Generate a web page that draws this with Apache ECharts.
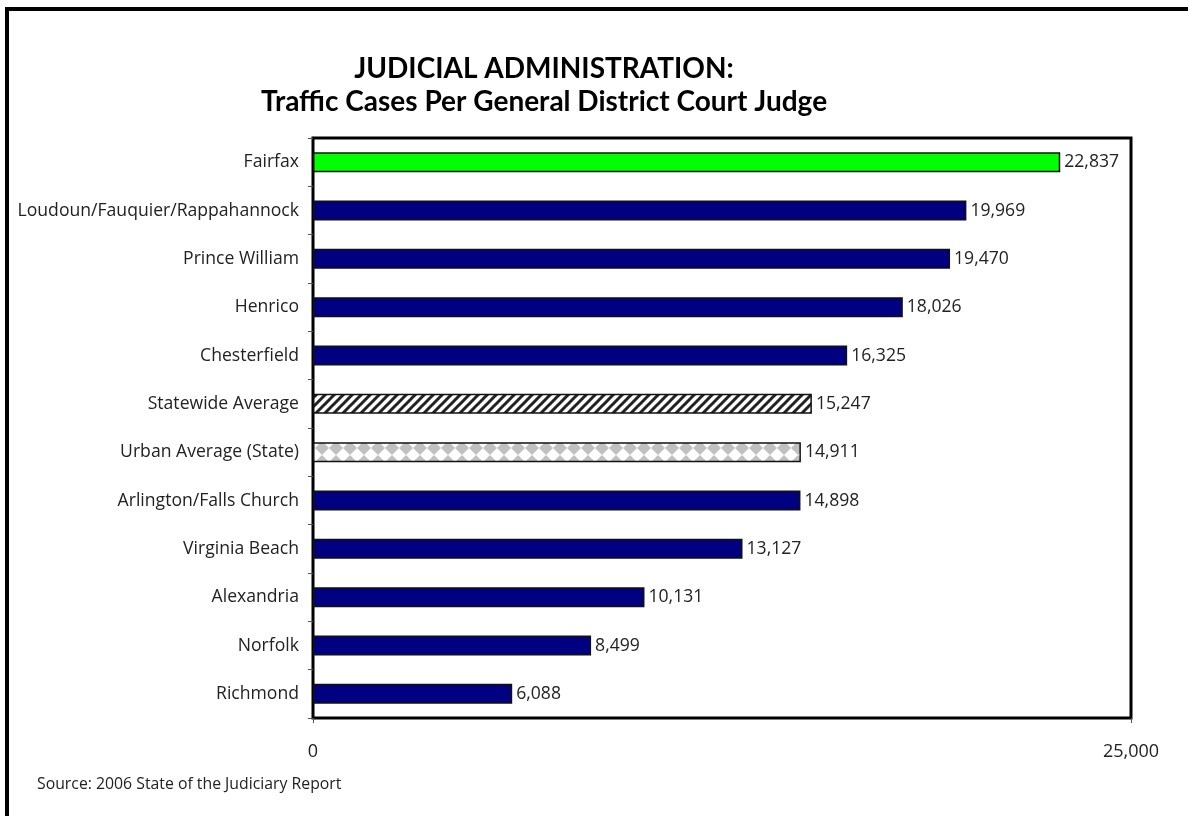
<!DOCTYPE html>
<html>
<head>
<meta charset="utf-8">
<script src="https://cdn.jsdelivr.net/npm/echarts@6/dist/echarts.min.js"></script>
<style>
  html, body { margin: 0; padding: 0; background: #fff; }
  #main { width: 1188px; height: 816px; }
</style>
</head>
<body>
<div id="main"></div>
<script>
// 数据
var categories = ['Fairfax', 'Loudoun/Fauquier/Rappahannock', 'Prince William', 'Henrico',
	'Chesterfield', 'Statewide Average', 'Urban Average (State)', 'Arlington/Falls Church',
	'Virginia Beach', 'Alexandria', 'Norfolk', 'Richmond'];
var caseValues = [22837, 19969, 19470, 18026, 16325, 15247, 14911, 14898, 13127, 10131, 8499, 6088];
var xTicks = [0, 25000];

// 斜线填充
function hatchPattern() {
	var c = document.createElement('canvas');
	c.width = 9; c.height = 9;
	var ctx = c.getContext('2d');
	ctx.fillStyle = '#fff';
	ctx.fillRect(0, 0, 9, 9);
	ctx.strokeStyle = '#222';
	ctx.lineWidth = 3;
	ctx.beginPath();
	ctx.moveTo(-2, 11); ctx.lineTo(11, -2);
	ctx.moveTo(-11, 11); ctx.lineTo(2, -2);
	ctx.moveTo(7, 11); ctx.lineTo(20, -2);
	ctx.stroke();
	return c;
}

// 菱形填充
function diamondPattern() {
	var c = document.createElement('canvas');
	var s = 14;
	c.width = s; c.height = s;
	var ctx = c.getContext('2d');
	ctx.fillStyle = '#c0c0c0';
	ctx.fillRect(0, 0, s, s);
	ctx.fillStyle = '#fff';
	ctx.beginPath();
	ctx.moveTo(s / 2, 0); ctx.lineTo(s, s / 2); ctx.lineTo(s / 2, s); ctx.lineTo(0, s / 2);
	ctx.closePath();
	ctx.fill();
	return c;
}

function barColor(name) {
	if (name === 'Fairfax') return '#00ff00';
	if (name === 'Statewide Average') return { image: hatchPattern(), repeat: 'repeat' };
	if (name === 'Urban Average (State)') return { image: diamondPattern(), repeat: 'repeat' };
	return '#000080';
}

var chart = echarts.init(document.getElementById('main'));
var barData = categories.map(function (name, i) {
	return { value: caseValues[i], itemStyle: { color: barColor(name) } };
});

var option = {
	backgroundColor: '#fff',
	animation: false,
	title: {
		text: 'JUDICIAL ADMINISTRATION:\nTraffic Cases Per General District Court Judge',
		left: 539,
		top: 47,
		textAlign: 'center',
		textStyle: {
			color: '#000',
			fontWeight: 'bold',
			fontFamily: 'Lato',
			fontSize: 28,
			lineHeight: 33
		}
	},
	graphic: [{
		type: 'rect',
		shape: { x: 7, y: 9, width: 1300, height: 900 },
		style: { fill: 'none', stroke: '#000', lineWidth: 4 },
		silent: true
	}, {
		type: 'text',
		left: 37,
		top: 776,
		style: {
			text: 'Source: 2006 State of the Judiciary Report',
			fill: '#222',
			font: '15.8px "Open Sans"'
		}
	}],
	grid: {
		left: 313,
		right: 57,
		top: 138,
		bottom: 98,
		show: true,
		borderColor: '#000',
		borderWidth: 3,
		containLabel: false
	},
	xAxis: {
		type: 'value',
		min: 0,
		max: 25000,
		interval: 25000,
		splitLine: { show: false },
		axisLine: { show: false },
		axisTick: { show: true, length: 5, lineStyle: { color: '#555' } },
		axisLabel: {
			margin: 25,
			color: '#222',
			fontFamily: 'Open Sans',
			fontSize: 18,
			formatter: function (v) {
				return xTicks.indexOf(v) >= 0 ? v.toLocaleString('en-US') : '';
			}
		}
	},
	yAxis: {
		type: 'category',
		data: categories,
		inverse: true,
		axisLine: { show: false },
		axisTick: { show: true, length: 5, lineStyle: { color: '#555' } },
		axisLabel: {
			margin: 14,
			color: '#222',
			fontFamily: 'Open Sans',
			fontSize: 17.6
		}
	},
	series: [{
		type: 'bar',
		data: barData,
		barWidth: 20,
		itemStyle: { borderColor: '#111', borderWidth: 1.5 },
		label: {
			show: true,
			position: 'right',
			distance: 4,
			color: '#222',
			fontFamily: 'Open Sans',
			fontSize: 17.6,
			formatter: function (p) {
				return p.value.toLocaleString('en-US');
			}
		}
	}]
};

chart.setOption(option, true);
</script>
</body>
</html>
